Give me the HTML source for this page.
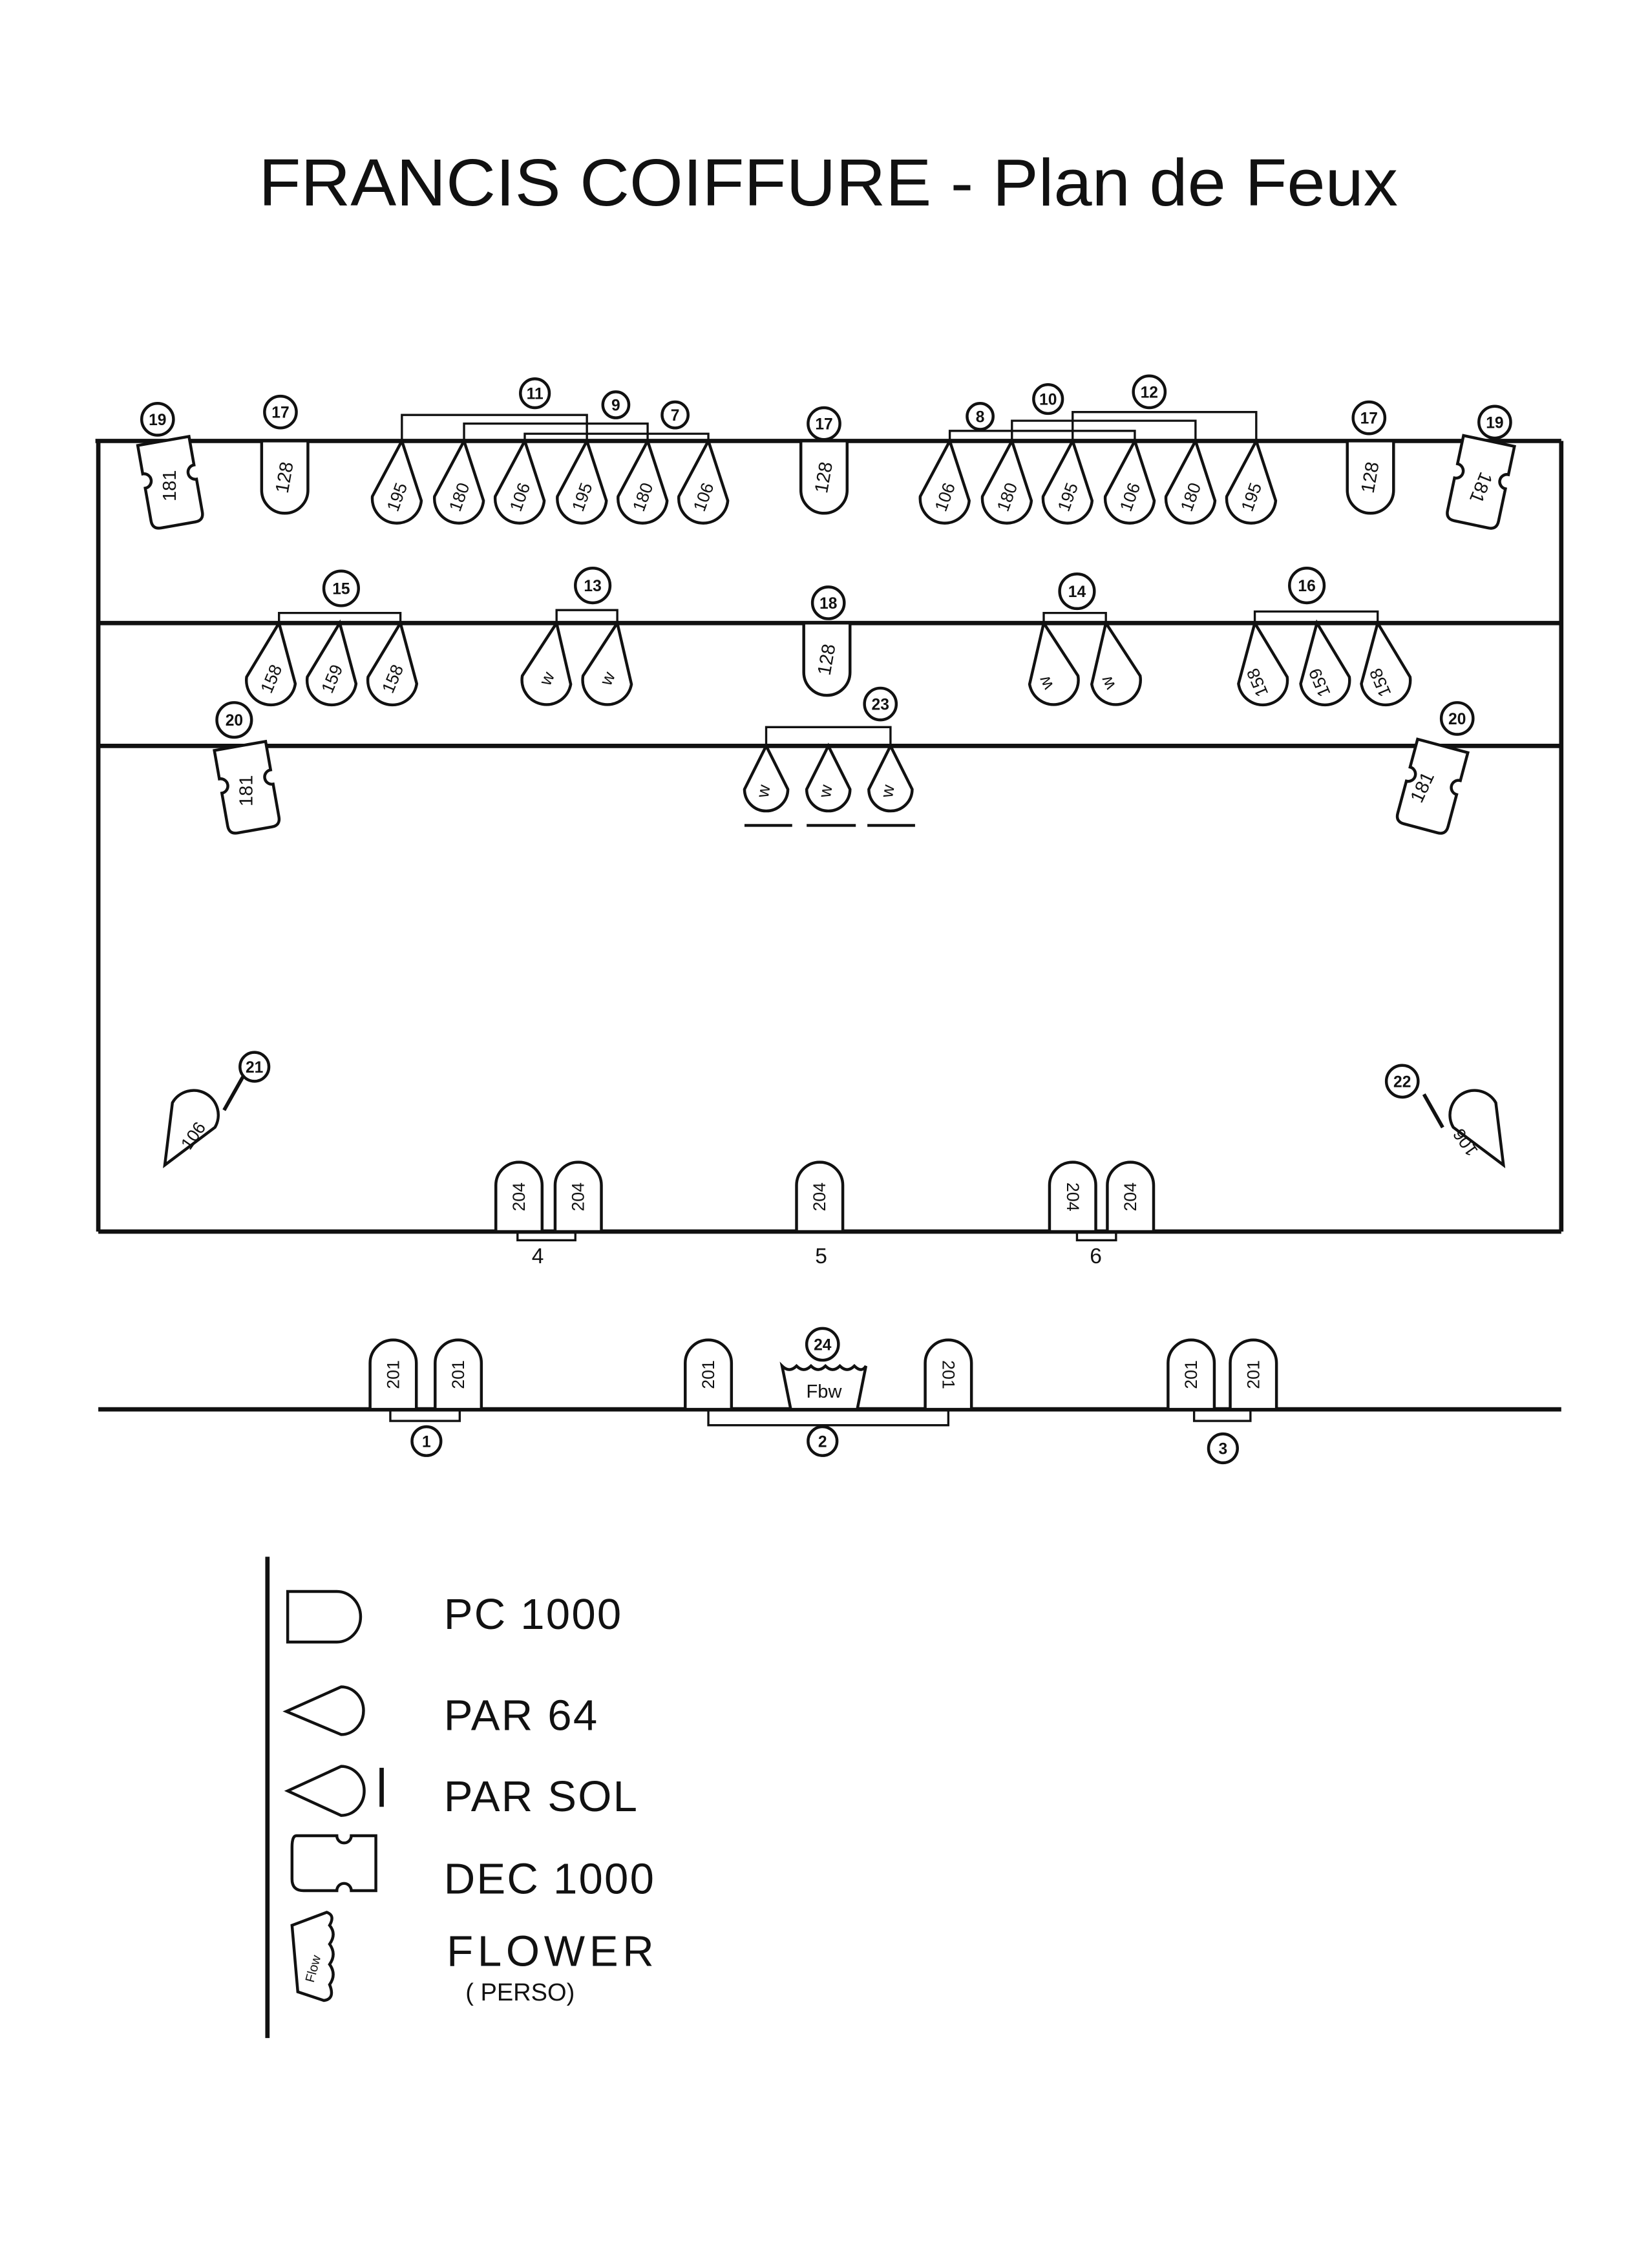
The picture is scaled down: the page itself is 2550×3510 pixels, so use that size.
<!DOCTYPE html>
<html><head><meta charset="utf-8"><style>
html,body{margin:0;padding:0;background:#fff}
svg{display:block}
text{font-family:"Liberation Sans",sans-serif;fill:#111}
</style></head><body>
<svg width="2550" height="3510" viewBox="0 0 1140 1569" xmlns="http://www.w3.org/2000/svg">
<defs>
<path id="cone" d="M0 0 L-17 40 A17 17 0 0 0 17 40 Z" fill="#fff" stroke="#111" stroke-width="2"/>
<path id="cone2" d="M0 0 L-15 30 A15 15 0 0 0 15 30 Z" fill="#fff" stroke="#111" stroke-width="2"/>
<path id="pcd" d="M-16 0 H16 V34 A16 16 0 0 1 -16 34 Z" fill="#fff" stroke="#111" stroke-width="2"/>
<path id="pcu" d="M-16 0 H16 V-32 A16 16 0 0 0 -16 -32 Z" fill="#fff" stroke="#111" stroke-width="2"/>
<path id="dec" d="M-18 0 H18 V20 A5 5 0 0 0 18 30 V53 Q18 59 12 59 H-12 Q-18 59 -18 53 V30 A5 5 0 0 0 -18 20 Z" fill="#fff" stroke="#111" stroke-width="2"/>
</defs>
<rect width="1140" height="1569" fill="#fff"/>
<text x="573" y="142" font-size="46" text-anchor="middle" textLength="788" lengthAdjust="spacingAndGlyphs">FRANCIS COIFFURE - Plan de Feux</text>

<g stroke="#111" fill="none" stroke-width="3">
<line x1="66" y1="305" x2="1080" y2="305"/>
<line x1="68" y1="431" x2="1080" y2="431"/>
<line x1="68" y1="516" x2="1080" y2="516"/>
<line x1="68" y1="305" x2="68" y2="852"/>
<line x1="1080" y1="305" x2="1080" y2="852"/>
<line x1="68" y1="852" x2="1080" y2="852"/>
<line x1="68" y1="975" x2="1080" y2="975"/>
<line x1="185" y1="1077" x2="185" y2="1410" stroke-width="3"/>
</g>
<g stroke="#111" fill="none" stroke-width="1.5">
<polyline points="278,305 278,287 406,287 406,305"/>
<polyline points="321,305 321,293 448,293 448,305"/>
<polyline points="363,305 363,300 490,300 490,305"/>
<polyline points="657,305 657,298 785,298 785,305"/>
<polyline points="700,305 700,291 827,291 827,305"/>
<polyline points="742,305 742,285 869,285 869,305"/>
<polyline points="193,431 193,424 277,424 277,431"/>
<polyline points="385,431 385,422 427,422 427,431"/>
<polyline points="722,431 722,424 765,424 765,431"/>
<polyline points="868,431 868,423 953,423 953,431"/>
<polyline points="530,516 530,503 616,503 616,516"/>
<polyline points="358,852 358,858 398,858 398,852"/>
<polyline points="745,852 745,858 772,858 772,852"/>
<polyline points="270,975 270,983 318,983 318,975"/>
<polyline points="490,975 490,986 656,986 656,975"/>
<polyline points="826,975 826,983 865,983 865,975"/>
</g>
<g stroke="#111" stroke-width="2">
<line x1="515" y1="571" x2="548" y2="571"/><line x1="558" y1="571" x2="592" y2="571"/><line x1="600" y1="571" x2="633" y2="571"/>
<line x1="155" y1="768" x2="168" y2="745" stroke-width="2.5"/>
<line x1="985" y1="757" x2="998" y2="780" stroke-width="2.5"/>
</g>

<g fill="#fff" stroke="#111" stroke-width="2">
<circle cx="109" cy="290" r="11"/><circle cx="194" cy="285" r="11"/><circle cx="370" cy="272" r="10"/><circle cx="426" cy="280" r="9"/><circle cx="467" cy="287" r="9"/>
<circle cx="570" cy="293" r="11"/><circle cx="678" cy="288" r="9"/><circle cx="725" cy="276" r="10"/><circle cx="795" cy="271" r="11"/><circle cx="947" cy="289" r="11"/><circle cx="1034" cy="292" r="11"/>
<circle cx="236" cy="407" r="12"/><circle cx="410" cy="405" r="12"/><circle cx="573" cy="417" r="11"/><circle cx="745" cy="409" r="12"/><circle cx="904" cy="405" r="12"/>
<circle cx="162" cy="498" r="12"/><circle cx="609" cy="487" r="11"/><circle cx="1008" cy="497" r="11"/>
<circle cx="176" cy="738" r="10"/><circle cx="970" cy="748" r="11"/>
<circle cx="569" cy="930" r="11"/><circle cx="295" cy="997" r="10"/><circle cx="569" cy="997" r="10"/><circle cx="846" cy="1002" r="10"/>
</g>
<g font-size="11" text-anchor="middle" font-weight="bold">
<text x="109" y="294">19</text><text x="194" y="289">17</text><text x="370" y="276">11</text><text x="426" y="284">9</text><text x="467" y="291">7</text>
<text x="570" y="297">17</text><text x="678" y="292">8</text><text x="725" y="280">10</text><text x="795" y="275">12</text><text x="947" y="293">17</text><text x="1034" y="296">19</text>
<text x="236" y="411">15</text><text x="410" y="409">13</text><text x="573" y="421">18</text><text x="745" y="413">14</text><text x="904" y="409">16</text>
<text x="162" y="502">20</text><text x="609" y="491">23</text><text x="1008" y="501">20</text>
<text x="176" y="742">21</text><text x="970" y="752">22</text>
<text x="569" y="934">24</text><text x="295" y="1001">1</text><text x="569" y="1001">2</text><text x="846" y="1006">3</text>
</g>

<g transform="translate(113,305) rotate(-10)"><use href="#dec"/><text font-size="13" transform="translate(3,32) rotate(-80)" text-anchor="middle">181</text></g>
<g transform="translate(197,305)"><use href="#pcd"/><text font-size="13" transform="translate(4,26) rotate(-80)" text-anchor="middle">128</text></g>
<g transform="translate(570,305)"><use href="#pcd"/><text font-size="13" transform="translate(4,26) rotate(-80)" text-anchor="middle">128</text></g>
<g transform="translate(948,305)"><use href="#pcd"/><text font-size="13" transform="translate(4,26) rotate(-80)" text-anchor="middle">128</text></g>
<g transform="translate(1030,305) rotate(12)"><use href="#dec"/><text font-size="13" transform="translate(-3,32) rotate(100)" text-anchor="middle">181</text></g>

<g font-size="12" text-anchor="middle">
<g transform="translate(278,305) rotate(5)"><use href="#cone"/><text transform="translate(4,40) rotate(-75)">195</text></g>
<g transform="translate(321,305) rotate(5)"><use href="#cone"/><text transform="translate(4,40) rotate(-75)">180</text></g>
<g transform="translate(363,305) rotate(5)"><use href="#cone"/><text transform="translate(4,40) rotate(-75)">106</text></g>
<g transform="translate(406,305) rotate(5)"><use href="#cone"/><text transform="translate(4,40) rotate(-75)">195</text></g>
<g transform="translate(448,305) rotate(5)"><use href="#cone"/><text transform="translate(4,40) rotate(-75)">180</text></g>
<g transform="translate(490,305) rotate(5)"><use href="#cone"/><text transform="translate(4,40) rotate(-75)">106</text></g>
<g transform="translate(657,305) rotate(5)"><use href="#cone"/><text transform="translate(4,40) rotate(-75)">106</text></g>
<g transform="translate(700,305) rotate(5)"><use href="#cone"/><text transform="translate(4,40) rotate(-75)">180</text></g>
<g transform="translate(742,305) rotate(5)"><use href="#cone"/><text transform="translate(4,40) rotate(-75)">195</text></g>
<g transform="translate(785,305) rotate(5)"><use href="#cone"/><text transform="translate(4,40) rotate(-75)">106</text></g>
<g transform="translate(827,305) rotate(5)"><use href="#cone"/><text transform="translate(4,40) rotate(-75)">180</text></g>
<g transform="translate(869,305) rotate(5)"><use href="#cone"/><text transform="translate(4,40) rotate(-75)">195</text></g>

<g transform="translate(193,431) rotate(8)"><use href="#cone"/><text transform="translate(4,40) rotate(-75)">158</text></g>
<g transform="translate(235,431) rotate(8)"><use href="#cone"/><text transform="translate(4,40) rotate(-75)">159</text></g>
<g transform="translate(277,431) rotate(8)"><use href="#cone"/><text transform="translate(4,40) rotate(-75)">158</text></g>
<g transform="translate(385,431) rotate(10)"><use href="#cone"/><text transform="translate(4,40) rotate(-75)">w</text></g>
<g transform="translate(427,431) rotate(10)"><use href="#cone"/><text transform="translate(4,40) rotate(-75)">w</text></g>
<g transform="translate(722,431) rotate(-10)"><use href="#cone"/><text transform="translate(-2,40) rotate(-105)">w</text></g>
<g transform="translate(765,431) rotate(-10)"><use href="#cone"/><text transform="translate(-2,40) rotate(-105)">w</text></g>
<g transform="translate(868,431) rotate(-8)"><use href="#cone"/><text transform="translate(0,40) rotate(-105)">158</text></g>
<g transform="translate(911,431) rotate(-8)"><use href="#cone"/><text transform="translate(0,40) rotate(-105)">159</text></g>
<g transform="translate(953,431) rotate(-8)"><use href="#cone"/><text transform="translate(0,40) rotate(-105)">158</text></g>

<g transform="translate(530,516)"><use href="#cone2"/><text transform="translate(2,32) rotate(-80)">w</text></g>
<g transform="translate(573,516)"><use href="#cone2"/><text transform="translate(2,32) rotate(-80)">w</text></g>
<g transform="translate(616,516)"><use href="#cone2"/><text transform="translate(2,32) rotate(-80)">w</text></g>
</g>
<g transform="translate(572,431)"><use href="#pcd"/><text font-size="13" transform="translate(4,26) rotate(-80)" text-anchor="middle">128</text></g>
<g transform="translate(166,516) rotate(-10)"><use href="#dec"/><text font-size="13" transform="translate(3,32) rotate(-80)" text-anchor="middle">181</text></g>
<g transform="translate(998,516) rotate(15)"><use href="#dec"/><text font-size="13" transform="translate(-2,32) rotate(-80)" text-anchor="middle">181</text></g>

<g transform="translate(114,806) rotate(-150)"><use href="#cone"/></g>
<text font-size="12" text-anchor="middle" transform="translate(137,788) rotate(-55)">106</text>
<g transform="translate(1040,806) rotate(150)"><use href="#cone"/></g>
<text font-size="12" text-anchor="middle" transform="translate(1017,788) rotate(235)">106</text>

<g font-size="12" text-anchor="middle">
<g transform="translate(359,852)"><use href="#pcu"/><text transform="translate(4,-24) rotate(-90)">204</text></g>
<g transform="translate(400,852)"><use href="#pcu"/><text transform="translate(4,-24) rotate(-90)">204</text></g>
<g transform="translate(567,852)"><use href="#pcu"/><text transform="translate(4,-24) rotate(-90)">204</text></g>
<g transform="translate(742,852)"><use href="#pcu"/><text transform="translate(-4,-24) rotate(90)">204</text></g>
<g transform="translate(782,852)"><use href="#pcu"/><text transform="translate(4,-24) rotate(-90)">204</text></g>
<g transform="translate(272,975)"><use href="#pcu"/><text transform="translate(4,-24) rotate(-90)">201</text></g>
<g transform="translate(317,975)"><use href="#pcu"/><text transform="translate(4,-24) rotate(-90)">201</text></g>
<g transform="translate(490,975)"><use href="#pcu"/><text transform="translate(4,-24) rotate(-90)">201</text></g>
<g transform="translate(656,975)"><use href="#pcu"/><text transform="translate(-4,-24) rotate(90)">201</text></g>
<g transform="translate(824,975)"><use href="#pcu"/><text transform="translate(4,-24) rotate(-90)">201</text></g>
<g transform="translate(867,975)"><use href="#pcu"/><text transform="translate(4,-24) rotate(-90)">201</text></g>
</g>
<path d="M541 945 Q546 950 551 945 Q556 950 561 945 Q566 950 571 945 Q576 950 581 945 Q586 950 591 945 Q596 950 599 945 L593 975 H547 Z" fill="#fff" stroke="#111" stroke-width="2"/>
<text x="570" y="967" font-size="13" text-anchor="middle">Fbw</text>
<g font-size="15" text-anchor="middle"><text x="372" y="874">4</text><text x="568" y="874">5</text><text x="758" y="874">6</text></g>

<g fill="#fff" stroke="#111" stroke-width="2">
<path d="M199 1101 H233 A16 17 0 0 1 233 1136 H199 Z"/>
<path d="M198 1184 L236 1167 A15 16 0 0 1 236 1200 Z"/>
<path d="M199 1239 L236 1222 A15 16 0 0 1 236 1256 Z"/>
<line x1="264" y1="1223" x2="264" y2="1250" stroke-width="3"/>
<path d="M205 1270 H233 A5 5 0 0 0 243 1270 H260 V1308 H243 A5 5 0 0 0 233 1308 H210 Q202 1308 202 1300 V1278 Q202 1270 205 1270 Z"/>
<path d="M202 1332 L226 1323 Q232 1325 228 1332 Q233 1338 228 1345 Q233 1352 228 1359 Q233 1366 228 1373 Q232 1383 224 1384 L206 1378 Z"/>
</g>
<text font-size="9" transform="translate(217,1372) rotate(-75)">Flow</text>
<g font-size="30" letter-spacing="1">
<text x="307" y="1127">PC 1000</text>
<text x="307" y="1197">PAR 64</text>
<text x="307" y="1253">PAR SOL</text>
<text x="307" y="1310">DEC 1000</text>
<text x="309" y="1360" letter-spacing="3">FLOWER</text>
</g>
<text x="322" y="1384" font-size="17">( PERSO)</text>
</svg>
</body></html>
